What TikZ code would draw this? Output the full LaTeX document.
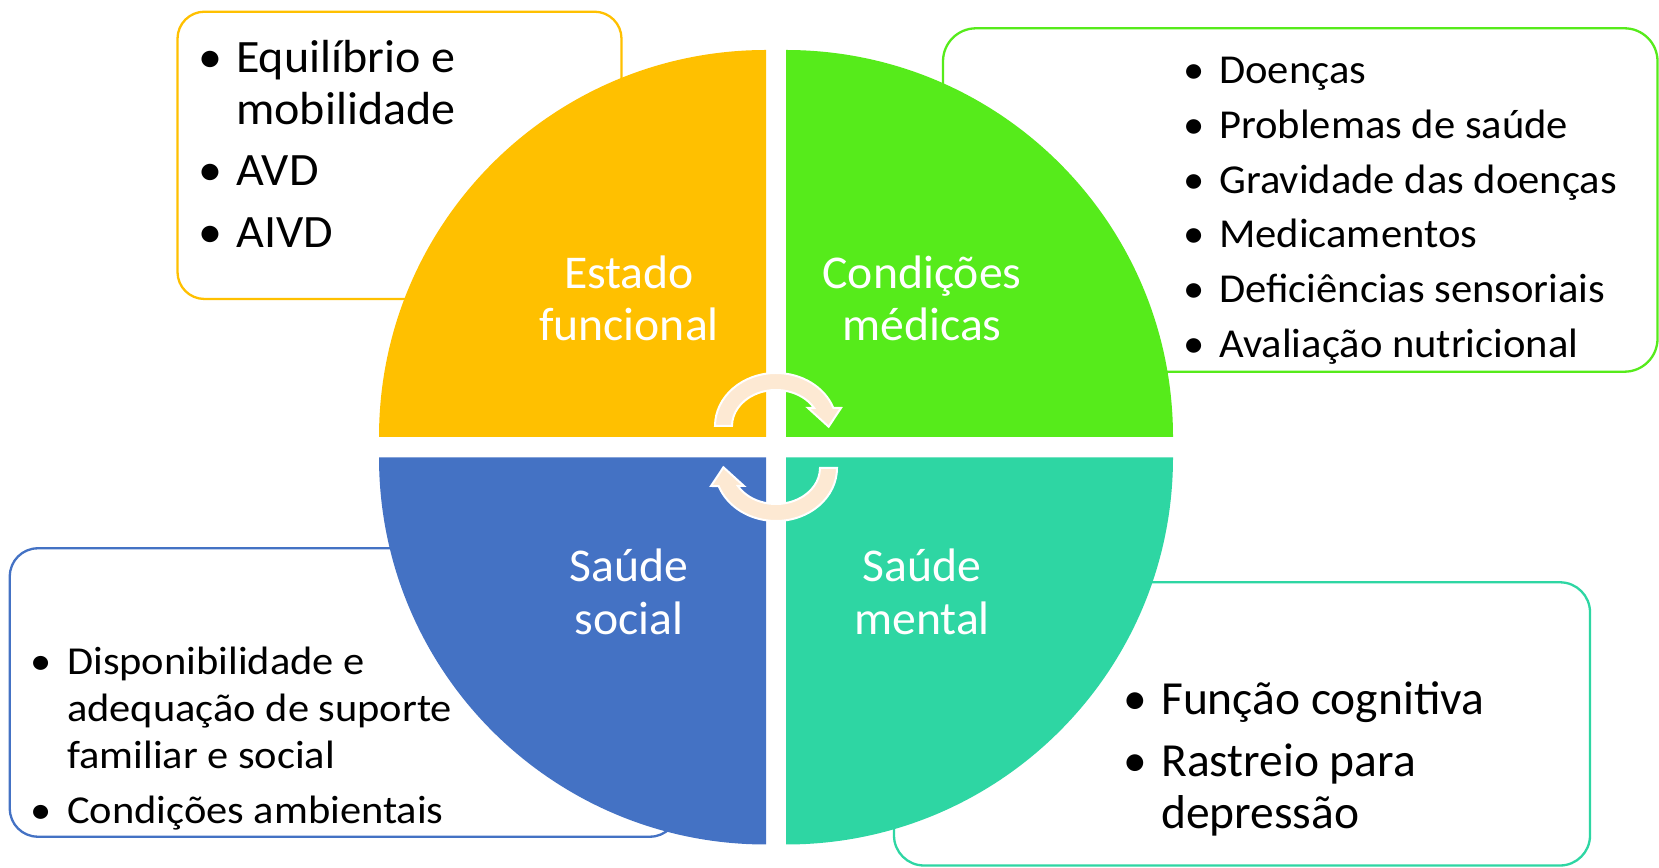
\documentclass[tikz,border=0pt]{standalone}
\usepackage{fontspec}
\setmainfont{Carlito}
\newfontfamily\fA[FakeStretch=1.035]{Carlito}
\newfontfamily\fB[FakeStretch=1.036]{Carlito}
\newfontfamily\fC[FakeStretch=1.072]{Carlito}
\newfontfamily\fD{Carlito}
\newfontfamily\fL[FakeStretch=1.015]{Carlito}
\definecolor{cOrange}{HTML}{FFC000}
\definecolor{cGreen}{HTML}{56EB1B}
\definecolor{cBlue}{HTML}{4472C4}
\definecolor{cTeal}{HTML}{2ED6A3}
\definecolor{cPeach}{HTML}{FDE9D3}
\tikzset{
  infobox/.style={draw=#1, fill=white, line width=2.3pt},
  quad/.style={fill=#1},
  bul/.style={anchor=base, inner sep=0pt, text=black},
  itm/.style={anchor=base west, inner sep=0pt, text=black},
  lbl/.style={anchor=base, inner sep=0pt, text=white, font=\fL\fontsize{47}{52}\selectfont},
  cyc/.style={fill=cPeach, draw=white, line width=2pt, line join=miter},
  sA/.style={font=\fA\fontsize{46.4}{52}\selectfont},
  sB/.style={font=\fB\fontsize{41.1}{48}\selectfont},
  sC/.style={font=\fC\fontsize{39.6}{46}\selectfont},
  sD/.style={font=\fD\fontsize{47.5}{52}\selectfont},
}
\begin{document}
\begin{tikzpicture}[x=1pt,y=1pt]
\useasboundingbox (0,0) rectangle (1659,867);
% boxes
\draw[infobox=cOrange, rounded corners=27pt] (177.5,568) rectangle (621.5,855.3);
\draw[infobox=cGreen, rounded corners=33pt] (943,495.3) rectangle (1657.5,838.7);
\draw[infobox=cBlue, rounded corners=28pt] (9.8,30.3) rectangle (678,318.7);
\draw[infobox=cTeal, rounded corners=30pt] (894,1.5) rectangle (1590,284.7);
% quadrants
\fill[quad=cOrange] (766,430) -- ++(-387,0) arc[start angle=180,end angle=90,radius=387] -- cycle;
\fill[quad=cGreen] (786,430) -- ++(0,387) arc[start angle=90,end angle=0,radius=387] -- cycle;
\fill[quad=cBlue] (766,409.5) -- ++(-387,0) arc[start angle=180,end angle=270,radius=387] -- cycle;
\fill[quad=cTeal] (786,409.5) -- ++(387,0) arc[start angle=0,end angle=-90,radius=387] -- cycle;
% circular arrows
\path[cyc] (715,441) arc[start angle=180,end angle=19.9,x radius=61,y radius=53]
  -- (841,459) -- (828.6,440.3) -- (808,459) -- (814.1,459)
  arc[start angle=30,end angle=180,x radius=44,y radius=36] -- cycle;
\begin{scope}[rotate around={180:(776,420)}]
\path[cyc] (715,441) arc[start angle=180,end angle=19.9,x radius=61,y radius=53]
  -- (841,459) -- (828.6,440.3) -- (808,459) -- (814.1,459)
  arc[start angle=30,end angle=180,x radius=44,y radius=36] -- cycle;
\end{scope}
% quadrant labels
\node[lbl] (l1a) at (629,578) {Estado};
\node[lbl] (l1b) at (629,526.3) {funcional};
\node[lbl] (l2a) at (922,578) {Condições};
\node[lbl] (l2b) at (922,526.3) {médicas};
\node[lbl] (l3a) at (629,285.3) {Saúde};
\node[lbl] (l3b) at (629,232) {social};
\node[lbl] (l4a) at (922,285.3) {Saúde};
\node[lbl] (l4b) at (922,232) {mental};
% top-left list
\node[bul,sA] (a1b) at (210.7,794.3) {•};
\node[itm,sA] (a1) at (236,794.3) {Equilíbrio e};
\node[itm,sA] (a1c) at (236,742) {mobilidade};
\node[bul,sA] (a2b) at (210.7,681.3) {•};
\node[itm,sA] (a2) at (236,681.3) {AVD};
\node[bul,sA] (a3b) at (210.7,619) {•};
\node[itm,sA] (a3) at (236,619) {AIVD};
% top-right list
\node[bul,sB] (b1b) at (1193.7,783.7) {•};
\node[itm,sB] (b1) at (1219,783.7) {Doenças};
\node[bul,sB] (b2b) at (1193.7,728.7) {•};
\node[itm,sB] (b2) at (1219,728.7) {Problemas de saúde};
\node[bul,sB] (b3b) at (1193.7,673.7) {•};
\node[itm,sB] (b3) at (1219,673.7) {Gravidade das doenças};
\node[bul,sB] (b4b) at (1193.7,619.3) {•};
\node[itm,sB] (b4) at (1219,619.3) {Medicamentos};
\node[bul,sB] (b5b) at (1193.7,564.3) {•};
\node[itm,sB] (b5) at (1219,564.3) {Deficiências sensoriais};
\node[bul,sB] (b6b) at (1193.7,509.7) {•};
\node[itm,sB] (b6) at (1219,509.7) {Avaliação nutricional};
% bottom-left list
\node[bul,sC] (c1b) at (40.8,192) {•};
\node[itm,sC] (c1) at (67,192) {Disponibilidade e};
\node[itm,sC] (c1c) at (67,145.3) {adequação de suporte};
\node[itm,sC] (c1d) at (67,98.7) {familiar e social};
\node[bul,sC] (c2b) at (40.8,43.7) {•};
\node[itm,sC] (c2) at (67,43.7) {Condições ambientais};
% bottom-right list
\node[bul,sD] (d1b) at (1135.8,152) {•};
\node[itm,sD] (d1) at (1161,152) {Função cognitiva};
\node[bul,sD] (d2b) at (1135.8,90.3) {•};
\node[itm,sD] (d2) at (1161,90.3) {Rastreio para};
\node[itm,sD] (d2c) at (1161,38.7) {depressão};
\end{tikzpicture}
\end{document}
